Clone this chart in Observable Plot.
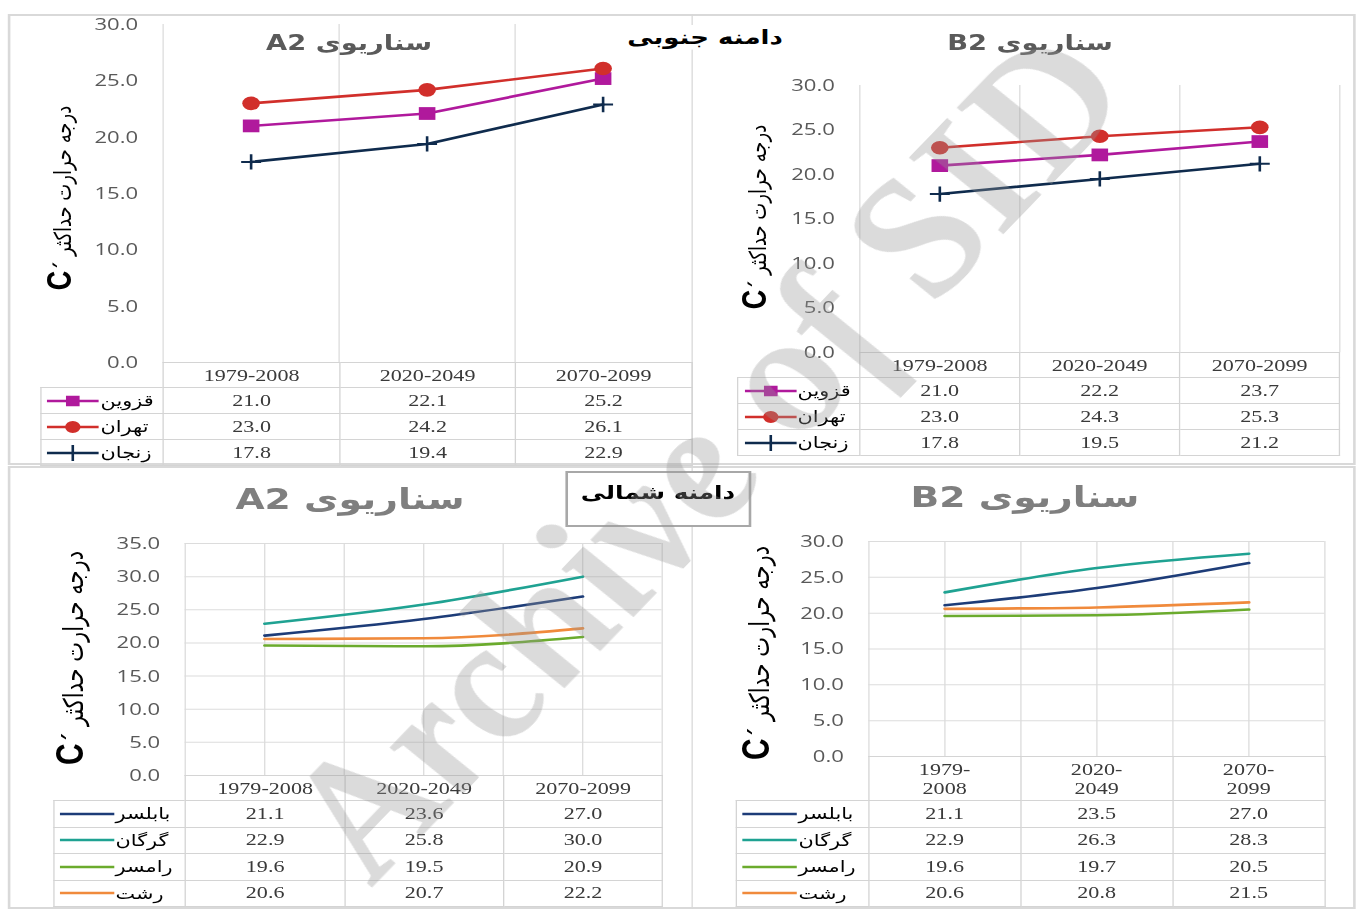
<!DOCTYPE html>
<html>
<head>
<meta charset="utf-8">
<script src="https://cdn.jsdelivr.net/npm/d3@7"></script>
<script src="https://cdn.jsdelivr.net/npm/@observablehq/plot@0.6"></script>
<style>
  html, body { margin: 0; padding: 0; background: #fff; overflow: hidden; }
  /* the whole figure is laid out narrow and widened horizontally */
  #stage { position: relative; width: 1044px; height: 909px; transform: scaleX(1.2998); transform-origin: 0 0; }
  .box { position: absolute; box-sizing: border-box; }
  .title { position: absolute; white-space: nowrap; font-family: "DejaVu Sans", sans-serif; font-weight: bold; transform: translateX(-50%); }
  .ytitle { position: absolute; white-space: nowrap; font-family: "DejaVu Sans", sans-serif; color: #000; transform: translate(-50%, -50%) rotate(-90deg); }
  table.dt { position: absolute; border-collapse: collapse; table-layout: fixed; font-family: "Liberation Serif", "Times New Roman", serif; font-size: 17px; color: #3a3a3a; }
  table.dt td { border: 1px solid #d4d4d4; text-align: center; padding: 0; overflow: hidden; }
  table.dt td.blank { border: none; }
  table.dt td.hdr { white-space: pre-line; line-height: 19px; }
  .key { display: flex; align-items: center; gap: 1px; font-family: "DejaVu Sans", sans-serif; font-size: 16px; color: #000; }
  .key svg { flex: none; }
  .wm { position: absolute; white-space: nowrap; font-family: "Liberation Serif", serif; font-style: italic; font-weight: bold; color: rgba(150,150,150,0.34); pointer-events: none; transform: translate(-50%, -50%) rotate(-53.4deg); }
</style>
</head>
<body>
<div id="stage"></div>
<script>
// Mean maximum temperature (°C) for three periods, two scenarios, two slopes.
const periods = ["1979-2008", "2020-2049", "2070-2099"];

// southern slope cities
const southCities = ["قزوین", "تهران", "زنجان"];
const qazvinA2 = [21.0, 22.1, 25.2];
const tehranA2 = [23.0, 24.2, 26.1];
const zanjanA2 = [17.8, 19.4, 22.9];
const qazvinB2 = [21.0, 22.2, 23.7];
const tehranB2 = [23.0, 24.3, 25.3];
const zanjanB2 = [17.8, 19.5, 21.2];

// northern slope cities
const northCities = ["بابلسر", "گرگان", "رامسر", "رشت"];
const babolsarA2 = [21.1, 23.6, 27.0];
const gorganA2 = [22.9, 25.8, 30.0];
const ramsarA2 = [19.6, 19.5, 20.9];
const rashtA2 = [20.6, 20.7, 22.2];
const babolsarB2 = [21.1, 23.5, 27.0];
const gorganB2 = [22.9, 26.3, 28.3];
const ramsarB2 = [19.6, 19.7, 20.5];
const rashtB2 = [20.6, 20.8, 21.5];

const southColors = ["#b0199c", "#d12f2b", "#0f2b4d"];
const southSymbols = ["square", "circle", "plus"];
const northColors = ["#1d3c78", "#1fa292", "#6bab2d", "#f08a3c"];

const yTitleText = "درجه حرارت حداکثر";
const scenarioA2 = "سناریوی A2";
const scenarioB2 = "سناریوی B2";
const southTitle = "دامنه جنوبی";
const northTitle = "دامنه شمالی";
const watermark = "Archive of SID";

// horizontal widening factor of the stage
const S = 1.2998;
const X = t => t / S;
const stage = document.getElementById("stage");

function addBox(x0, y0, x1, y1, style) {
  const d = document.createElement("div");
  d.className = "box";
  d.style.left = X(x0) + "px";
  d.style.top = y0 + "px";
  d.style.width = (X(x1) - X(x0)) + "px";
  d.style.height = (y1 - y0) + "px";
  Object.assign(d.style, style);
  stage.appendChild(d);
  return d;
}

function addTitle(text, cx, top, size, color) {
  const d = document.createElement("div");
  d.className = "title";
  d.dir = "rtl";
  d.textContent = text;
  d.style.left = X(cx) + "px";
  d.style.top = top + "px";
  d.style.fontSize = size + "px";
  d.style.color = color;
  stage.appendChild(d);
  return d;
}

function addYTitle(cx, cy, size) {
  const d = document.createElement("div");
  d.className = "ytitle";
  d.dir = "rtl";
  d.style.left = X(cx) + "px";
  d.style.top = cy + "px";
  d.style.fontSize = size + "px";
  const a = document.createElement("span");
  a.textContent = yTitleText + "  ";
  const m = document.createElement("span");
  m.textContent = "´";
  m.style.fontWeight = "bold";
  const c = document.createElement("span");
  c.textContent = "C";
  c.style.fontWeight = "bold";
  c.style.fontSize = (size + 9) + "px";
  c.style.fontFamily = "'Liberation Sans', sans-serif";
  d.append(a, m, c);
  stage.appendChild(d);
}

function drawChart(p) {
  const mL = 70, mR = 2, mT = 14, mB = 2;
  const fw = X(p.x1) - X(p.x0);
  const fh = p.y1 - p.y0;
  const ticks = d3.range(0, p.yMax + 1, 5);
  const marks = [];
  if (p.hGrid) marks.push(Plot.ruleY(ticks, {stroke: "#dcdcdc", strokeWidth: 1}));
  marks.push(Plot.ruleX(p.vGrid, {stroke: "#dcdcdc", strokeWidth: 1}));
  marks.push(Plot.axisY({
    ticks, tickSize: 0, tickPadding: X(p.x0 - p.tickRight),
    tickFormat: d3.format(".1f"), fontSize: 17, label: null
  }));
  p.series.forEach(s => {
    const rows = s.values.map((v, i) => ({i, v}));
    marks.push(Plot.line(rows, {
      x: "i", y: "v", stroke: s.color, strokeWidth: 2.6,
      curve: p.smooth ? "monotone-x" : "linear"
    }));
    if (s.symbol) {
      const plus = s.symbol === "plus";
      marks.push(Plot.dot(rows, {
        x: "i", y: "v", symbol: s.symbol,
        r: plus ? 5 : s.symbol === "square" ? 7.2 : 6.8,
        fill: plus ? "none" : s.color,
        stroke: plus ? s.color : "none",
        strokeWidth: 2
      }));
    }
  });
  const svg = Plot.plot({
    width: fw + mL + mR, height: fh + mT + mB,
    marginLeft: mL, marginRight: mR, marginTop: mT, marginBottom: mB,
    x: {type: "linear", domain: [-0.5, 2.5], axis: null},
    y: {domain: [0, p.yMax]},
    style: {background: "transparent", color: "#595959", fontFamily: "'Open Sans', sans-serif", overflow: "visible"},
    marks
  });
  svg.style.position = "absolute";
  svg.style.left = (X(p.x0) - mL) + "px";
  svg.style.top = (p.y0 - mT) + "px";
  stage.appendChild(svg);
}

function keySwatch(s, w) {
  const h = 16;
  const svg = d3.create("svg").attr("width", w).attr("height", h);
  svg.append("line").attr("x1", 0).attr("x2", w).attr("y1", h / 2).attr("y2", h / 2)
    .attr("stroke", s.color).attr("stroke-width", 2.6);
  if (s.symbol) {
    const plus = s.symbol === "plus";
    const type = s.symbol === "square" ? d3.symbolSquare : s.symbol === "circle" ? d3.symbolCircle : d3.symbolPlus;
    svg.append("path")
      .attr("transform", `translate(${w / 2},${h / 2})`)
      .attr("d", d3.symbol(type, plus ? 90 : 110)())
      .attr("fill", plus ? "none" : s.color)
      .attr("stroke", plus ? s.color : "none")
      .attr("stroke-width", 2);
  }
  return svg.node();
}

function drawTable(p) {
  const t = document.createElement("table");
  t.className = "dt";
  t.style.left = X(p.legendLeft) + "px";
  t.style.top = p.tableTop + "px";
  t.style.width = (X(p.x1) - X(p.legendLeft)) + "px";
  const cg = document.createElement("colgroup");
  const firstW = X(p.x0) - X(p.legendLeft);
  const colW = (X(p.x1) - X(p.x0)) / 3;
  [firstW, colW, colW, colW].forEach(w => {
    const c = document.createElement("col");
    c.style.width = w + "px";
    cg.appendChild(c);
  });
  t.appendChild(cg);
  const hr = document.createElement("tr");
  hr.style.height = p.headerH + "px";
  const blank = document.createElement("td");
  blank.className = "blank";
  hr.appendChild(blank);
  periods.forEach(per => {
    const td = document.createElement("td");
    td.className = "hdr";
    td.textContent = p.wrapHeader ? per.replace("-", "-\n") : per;
    hr.appendChild(td);
  });
  t.appendChild(hr);
  p.series.forEach(s => {
    const tr = document.createElement("tr");
    tr.style.height = p.rowH + "px";
    const lc = document.createElement("td");
    const k = document.createElement("div");
    k.className = "key";
    k.style.paddingLeft = X(p.keyPad) + "px";
    k.appendChild(keySwatch(s, X(p.keyW)));
    const nm = document.createElement("span");
    nm.textContent = s.name;
    k.appendChild(nm);
    lc.appendChild(k);
    tr.appendChild(lc);
    s.values.forEach(v => {
      const td = document.createElement("td");
      td.textContent = v.toFixed(1);
      tr.appendChild(td);
    });
    t.appendChild(tr);
  });
  stage.appendChild(t);
}

// panel frames
const frameStyle = {border: "2px solid #d9d9d9"};
addBox(8, 14, 1356, 465, frameStyle);
addBox(691, 14, 693, 465, {background: "#d9d9d9"});
addBox(8, 466, 1356, 909, frameStyle);
addBox(691, 466, 693, 909, {background: "#d9d9d9"});

const southSeries = vals => southCities.map((name, k) => ({name, values: vals[k], color: southColors[k], symbol: southSymbols[k]}));
const northSeries = vals => northCities.map((name, k) => ({name, values: vals[k], color: northColors[k]}));

const panels = [
  { // southern slope, A2
    x0: 163, x1: 691, y0: 24, y1: 362, yMax: 30, tickRight: 138,
    vGrid: [-0.5, 0.5, 1.5], hGrid: false, smooth: false,
    series: southSeries([qazvinA2, tehranA2, zanjanA2]),
    legendLeft: 40, tableTop: 362, headerH: 25, rowH: 26, keyPad: 6, keyW: 52,
    title: scenarioA2, titleX: 349, titleTop: 31, titleSize: 21, titleColor: "#5a5a5a",
    yTitleX: 60, yTitleY: 198, yTitleSize: 18
  },
  { // southern slope, B2
    x0: 859, x1: 1339, y0: 85, y1: 352, yMax: 30, tickRight: 834,
    vGrid: [-0.5, 0.5, 1.5, 2.5], hGrid: false, smooth: false,
    series: southSeries([qazvinB2, tehranB2, zanjanB2]),
    legendLeft: 737, tableTop: 352, headerH: 25, rowH: 26, keyPad: 6, keyW: 52,
    title: scenarioB2, titleX: 1030, titleTop: 31, titleSize: 21, titleColor: "#5a5a5a",
    yTitleX: 755, yTitleY: 217, yTitleSize: 18
  },
  { // northern slope, A2
    x0: 185, x1: 662, y0: 543, y1: 775, yMax: 35, tickRight: 160,
    vGrid: [-0.5, 0, 0.5, 1, 1.5, 2, 2.5], hGrid: true, smooth: true,
    series: northSeries([babolsarA2, gorganA2, ramsarA2, rashtA2]),
    legendLeft: 53, tableTop: 775, headerH: 25, rowH: 26.5, keyPad: 5, keyW: 55,
    title: scenarioA2, titleX: 350, titleTop: 482, titleSize: 29, titleColor: "#7f7f7f",
    yTitleX: 70, yTitleY: 658, yTitleSize: 21
  },
  { // northern slope, B2
    x0: 868, x1: 1324, y0: 541, y1: 756, yMax: 30, tickRight: 843,
    vGrid: [-0.5, 0, 0.5, 1, 1.5, 2, 2.5], hGrid: true, smooth: true,
    series: northSeries([babolsarB2, gorganB2, ramsarB2, rashtB2]),
    legendLeft: 736, tableTop: 756, headerH: 44, rowH: 26.5, keyPad: 5, keyW: 55, wrapHeader: true,
    title: scenarioB2, titleX: 1025, titleTop: 480, titleSize: 29, titleColor: "#7f7f7f",
    yTitleX: 756, yTitleY: 653, yTitleSize: 21
  }
];

panels.forEach(p => {
  drawChart(p);
  drawTable(p);
  addTitle(p.title, p.titleX, p.titleTop, p.titleSize, p.titleColor);
  addYTitle(p.yTitleX, p.yTitleY, p.yTitleSize);
});

// slope labels
const st = addTitle(southTitle, 705, 25, 20, "#000");
st.style.background = "#fff";
st.style.padding = "0 6px";
addBox(566, 471, 751, 527, {border: "2px solid #a8a8a8", background: "#fff"});
addTitle(northTitle, 658, 481, 19, "#000");

// archive stamp across the figure
const wm = document.createElement("div");
wm.className = "wm";
wm.textContent = watermark;
wm.style.left = X(705) + "px";
wm.style.top = "455px";
wm.style.fontSize = "158px";
stage.appendChild(wm);
</script>
</body>
</html>
